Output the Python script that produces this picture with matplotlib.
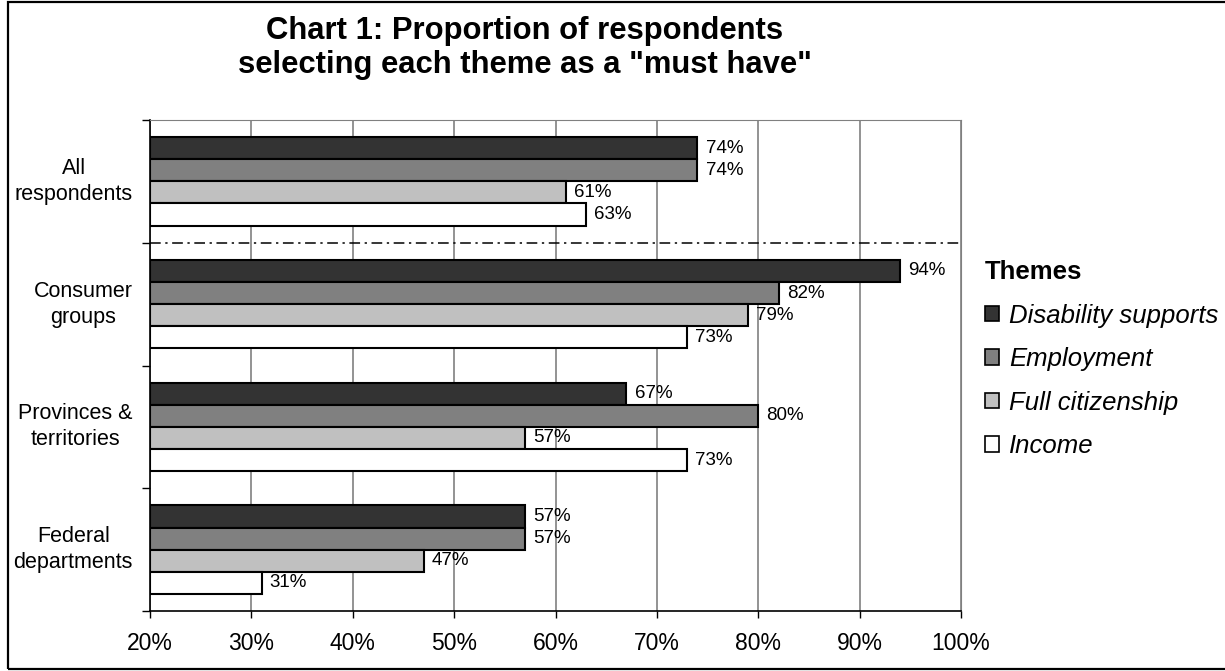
import numpy as np
import matplotlib.pyplot as plt
from matplotlib.patches import Rectangle
from matplotlib.transforms import blended_transform_factory, offset_copy

plt.rcParams['font.family'] = ['Liberation Sans', 'DejaVu Sans']

groups = ['All\nrespondents', 'Consumer\ngroups', 'Provinces &\nterritories', 'Federal\ndepartments']
themes = ['Disability supports', 'Employment', 'Full citizenship', 'Income']
disability = [74, 94, 67, 57]
employment = [74, 82, 80, 57]
citizenship = [61, 79, 57, 47]
income = [63, 73, 73, 31]
series = [disability, employment, citizenship, income]
colors = ['#333333', '#808080', '#c0c0c0', '#ffffff']

fig = plt.figure(figsize=(12.25, 6.71), dpi=100)
ax = fig.add_axes([150 / 1225, 1 - 611 / 671, 811 / 1225, 491 / 671])

h = 0.18
y = np.arange(len(groups))
bars = []
for i, (vals, c) in enumerate(zip(series, colors)):
    pos = y + (i - 1.5) * h
    b = ax.barh(pos, np.array(vals) - 20, left=20, height=h, color=c,
                edgecolor='black', linewidth=1.5, zorder=3, label=themes[i])
    bars.append(b)
    for p, v in zip(pos, vals):
        ax.text(v + 0.8, p, f'{v}%', va='center', ha='left', fontsize=13.5, zorder=4)

# separator between the overall figure and the breakdowns
ax.plot([20, 100], [0.5, 0.5], color='black', lw=1.1,
        dashes=(7, 3, 1.5, 3), zorder=4, clip_on=False)

ax.set_xlim(20, 100)
ax.set_ylim(3.5, -0.5)
ax.set_xticks(np.arange(20, 101, 10))
ax.set_xticklabels([f'{t}%' for t in range(20, 101, 10)], fontsize=16.5)
ax.tick_params(axis='x', length=5, width=1, pad=10, direction='out')

# category names: right-aligned block, lines centred within it
ax.set_yticks(y)
ax.set_yticklabels([])
ax.tick_params(axis='y', length=0)
trans = offset_copy(blended_transform_factory(ax.transAxes, ax.transData),
                    fig=fig, x=-17, y=0, units='dots')
for yi, g in zip(y, groups):
    ax.text(0, yi, g, transform=trans, ha='right', va='center',
            multialignment='center', fontsize=15.5, linespacing=1.3)

ax.set_yticks(np.arange(-0.5, 3.6, 1), minor=True)
ax.tick_params(axis='y', which='minor', length=6, width=1, direction='out')
ax.grid(axis='x', color='#808080', lw=1.2, zorder=0)
for s in ['top', 'right']:
    ax.spines[s].set_color('#808080')
for s in ['left', 'bottom']:
    ax.spines[s].set_color('black')
    ax.spines[s].set_linewidth(1.2)

fig.text(525 / 1225, 1 - 48 / 671, 'Chart 1: Proportion of respondents\nselecting each theme as a "must have"',
         ha='center', va='center', fontsize=22.3, fontweight='bold', linespacing=1.15)

leg = fig.legend(handles=bars, labels=themes, loc='upper left',
                 bbox_to_anchor=(962 / 1225, 1 - 237 / 671), title='Themes',
                 frameon=False, prop={'style': 'italic', 'size': 18.5},
                 handlelength=0.55, handleheight=0.55, handletextpad=0.38,
                 labelspacing=0.76, alignment='left')
leg.get_title().set_fontweight('bold')
leg.get_title().set_fontsize(18.5)
for hd in leg.legend_handles:
    hd.set_linewidth(1.2)

fig.add_artist(Rectangle((8 / 1225, 1 - 669 / 671), 1.5, 667 / 671,
                         transform=fig.transFigure, fill=False, edgecolor='black', lw=1.6))

fig.savefig('out.png', dpi=100)
